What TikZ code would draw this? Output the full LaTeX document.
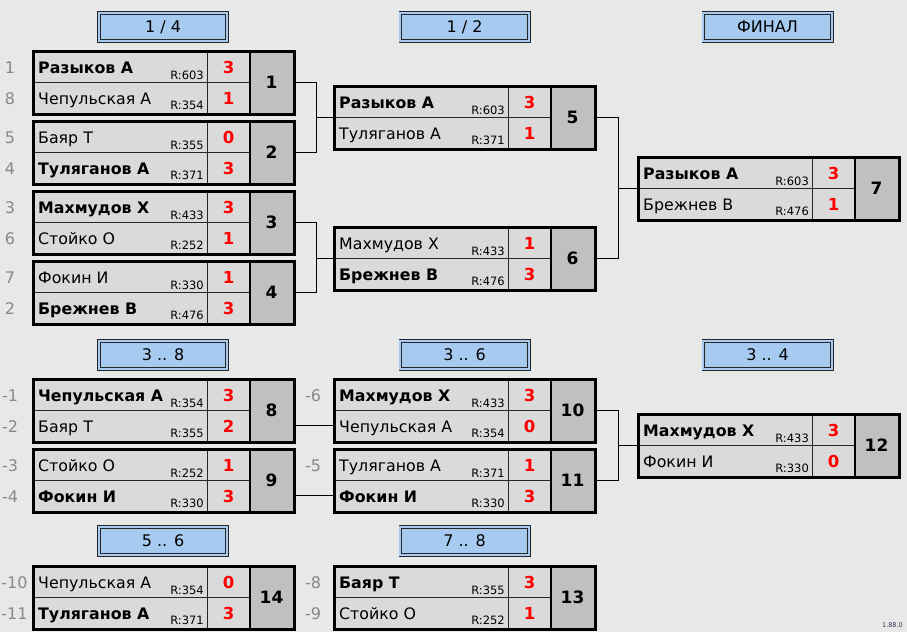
\documentclass[tikz,border=0pt]{standalone}
\usepackage{fontspec}
\setmainfont{DejaVu Sans}
\definecolor{bgc}{HTML}{E8E8E8}
\definecolor{cellc}{HTML}{DADADA}
\definecolor{numc}{HTML}{C0C0C0}
\definecolor{hdrc}{HTML}{A6CAF0}
\definecolor{seedc}{HTML}{888888}
\definecolor{scorec}{HTML}{FF0000}
\definecolor{verc}{HTML}{2A3550}
\tikzset{
  cellbox/.style={fill=cellc, draw=black!85, line width=0.9pt, inner sep=0pt, anchor=north west},
  numbox/.style={fill=numc, draw=black, line width=0.9pt, inner sep=0pt, anchor=north west, minimum width=43pt, minimum height=63pt},
  frame/.style={draw=black, line width=2.5pt, inner sep=0pt, anchor=north west, minimum width=261pt, minimum height=63pt},
  nametext/.style={anchor=base west, inner sep=0pt, font=\fontsize{15.8}{18}\selectfont},
  ratetext/.style={anchor=base east, inner sep=0pt, font=\fontsize{11.5}{13}\selectfont},
  scoretext/.style={anchor=base, inner sep=0pt, text=scorec, font=\fontsize{16.5}{18}\selectfont\bfseries},
  numtext/.style={anchor=center, inner sep=0pt, text height=12.2pt, text depth=0pt, font=\fontsize{17}{19}\selectfont\bfseries},
  seedtext/.style={anchor=base, inner sep=0pt, text=seedc, font=\fontsize{16}{18}\selectfont},
  header/.style={fill=hdrc, draw=black!85, line width=0.8pt, double=hdrc, double distance=2pt, inner sep=0pt,
     minimum width=128.4pt, minimum height=28.4pt, text height=11.7pt, text depth=0pt, font=\fontsize{16}{18}\selectfont},
  conn/.style={draw=black, line width=1pt},
}
\newcommand{\matchbox}[8]{%
  \begin{scope}[shift={(#1)}]
    \node[cellbox, minimum width=175pt, minimum height=31.5pt] (m#2a) at (0,0) {};
    \node[cellbox, minimum width=175pt, minimum height=31.5pt] (m#2b) at (0,31.5) {};
    \node[cellbox, minimum width=43pt, minimum height=31.5pt] (m#2c) at (175,0) {};
    \node[cellbox, minimum width=43pt, minimum height=31.5pt] (m#2d) at (175,31.5) {};
    \node[numbox] (m#2n) at (218,0) {};
    \draw[line width=2.5pt] (m#2n.north west) -- (m#2n.south west);
    \node[frame] (m#2) at (0,0) {};
    \node[nametext] (m#2t1) at (6,23.5) {#3};
    \node[nametext] (m#2t2) at (6,54.5) {#6};
    \node[ratetext] (m#2r1) at (172,29) {R:#4};
    \node[ratetext] (m#2r2) at (172,59) {R:#7};
    \node[scoretext] (m#2s1) at (196.5,23.5) {#5};
    \node[scoretext] (m#2s2) at (196.5,54.5) {#8};
    \node[numtext] (m#2x) at (239.5,32) {#2};
  \end{scope}%
}
\newcommand{\seedlbl}[3]{\node[seedtext] (#1) at (#2) {#3};}
\begin{document}
\begin{tikzpicture}[x=1pt,y=-1pt]
\path[fill=bgc] (0,0) rectangle (907,632);
\useasboundingbox (0,0) rectangle (907,632);

% headers
\node[header] (h1) at (163,27) {1 / 4};
\node[header] (h2) at (464.5,27) {1 / 2};
\node[header] (h3) at (767.5,27) {ФИНАЛ};
\node[header] (h4) at (163,355) {3 .. 8};
\node[header] (h5) at (464.5,355) {3 .. 6};
\node[header] (h6) at (767.5,355) {3 .. 4};
\node[header] (h7) at (163,541) {5 .. 6};
\node[header] (h8) at (464.5,541) {7 .. 8};

% matches
\matchbox{32,50}{1}{\bfseries Разыков А}{603}{3}{Чепульская А}{354}{1}
\matchbox{32,120}{2}{Баяр Т}{355}{0}{\bfseries Туляганов А}{371}{3}
\matchbox{32,190}{3}{\bfseries Махмудов Х}{433}{3}{Стойко О}{252}{1}
\matchbox{32,260}{4}{Фокин И}{330}{1}{\bfseries Брежнев В}{476}{3}
\matchbox{333,85}{5}{\bfseries Разыков А}{603}{3}{Туляганов А}{371}{1}
\matchbox{333,226}{6}{Махмудов Х}{433}{1}{\bfseries Брежнев В}{476}{3}
\matchbox{637,156}{7}{\bfseries Разыков А}{603}{3}{Брежнев В}{476}{1}
\matchbox{32,378}{8}{\bfseries Чепульская А}{354}{3}{Баяр Т}{355}{2}
\matchbox{32,448}{9}{Стойко О}{252}{1}{\bfseries Фокин И}{330}{3}
\matchbox{333,378}{10}{\bfseries Махмудов Х}{433}{3}{Чепульская А}{354}{0}
\matchbox{333,448}{11}{Туляганов А}{371}{1}{\bfseries Фокин И}{330}{3}
\matchbox{637,413}{12}{\bfseries Махмудов Х}{433}{3}{Фокин И}{330}{0}
\matchbox{32,565}{14}{Чепульская А}{354}{0}{\bfseries Туляганов А}{371}{3}
\matchbox{333,565}{13}{\bfseries Баяр Т}{355}{3}{Стойко О}{252}{1}

% seeds
\seedlbl{sa1}{10,73.5}{1}
\seedlbl{sa2}{10,104.5}{8}
\seedlbl{sa3}{10,143.5}{5}
\seedlbl{sa4}{10,174.5}{4}
\seedlbl{sa5}{10,213.5}{3}
\seedlbl{sa6}{10,244.5}{6}
\seedlbl{sa7}{10,283.5}{7}
\seedlbl{sa8}{10,314.5}{2}
\seedlbl{sb1}{10,401.5}{-1}
\seedlbl{sb2}{10,432.5}{-2}
\seedlbl{sb3}{10,471.5}{-3}
\seedlbl{sb4}{10,502.5}{-4}
\seedlbl{sb5}{313,401.5}{-6}
\seedlbl{sb6}{313,471.5}{-5}
\seedlbl{sc1}{14.5,588.5}{-10}
\seedlbl{sc2}{14.5,619.5}{-11}
\seedlbl{sc3}{313,588.5}{-8}
\seedlbl{sc4}{313,619.5}{-9}

% connectors
\draw[conn] (m1.east) -- ++(21,0) coordinate (j1) |- (m2.east);
\draw[conn] (j1 |- m5.west) -- (m5.west);
\draw[conn] (m3.east) -- ++(21,0) coordinate (j2) |- (m4.east);
\draw[conn] (j2 |- m6.west) -- (m6.west);
\draw[conn] (m5.east) -- ++(22,0) coordinate (j3) |- (m6.east);
\draw[conn] (j3 |- m7.west) -- (m7.west);
\draw[conn] (m8.east |- m8b.center) -- (m10.west |- m10b.center);
\draw[conn] (m9.east |- m9b.center) -- (m11.west |- m11b.center);
\draw[conn] (m10.east) -- ++(22,0) coordinate (j4) |- (m11.east);
\draw[conn] (j4 |- m12.west) -- (m12.west);

\node[anchor=base east, inner sep=0pt, text=verc, font=\fontsize{6.5}{8}\selectfont] (ver) at (903,627) {1.88.0};
\end{tikzpicture}
\end{document}
